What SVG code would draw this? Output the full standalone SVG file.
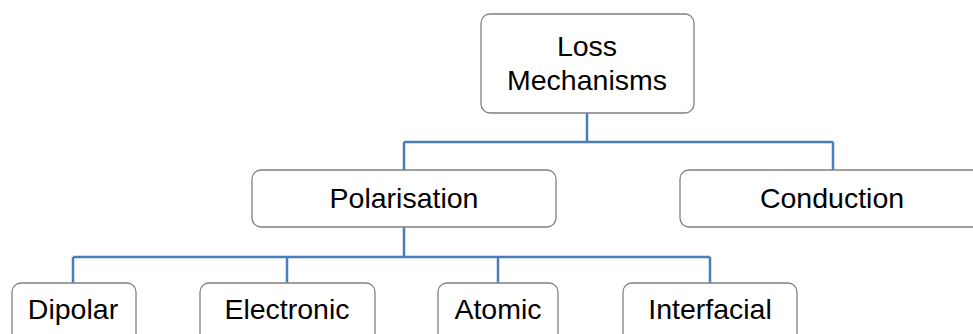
<svg xmlns="http://www.w3.org/2000/svg" width="973" height="334" viewBox="0 0 973 334">
<style>
.box{fill:#fff;stroke:#808080;stroke-width:1.3}
.t{font-family:"Liberation Sans",Arial,sans-serif;font-size:28.5px;fill:#000;text-anchor:middle}
.c{fill:none;stroke:#4a7ebb;stroke-width:2.5}
</style>
<rect width="973" height="334" fill="#fff"/>
<g id="connectors">
<path class="c" d="M587 113V142M404 142H833M404 142V170M833 142V170"/>
<path class="c" d="M404 227V257M73 257H710M73 257V283M287 257V283M498 257V283M710 257V283"/>
</g>
<g id="loss"><rect class="box" x="481" y="14" width="213" height="99" rx="9"/><text class="t" x="587" y="56">Loss</text><text class="t" x="587" y="90">Mechanisms</text></g>
<g id="polarisation"><rect class="box" x="252" y="170" width="304" height="57" rx="9"/><text class="t" x="404" y="208">Polarisation</text></g>
<g id="conduction"><rect class="box" x="680" y="170" width="310" height="57" rx="9"/><text class="t" x="832" y="208">Conduction</text></g>
<g id="dipolar"><rect class="box" x="12" y="283" width="124" height="70" rx="9"/><text class="t" x="73" y="319">Dipolar</text></g>
<g id="electronic"><rect class="box" x="200" y="283" width="175" height="70" rx="9"/><text class="t" x="287" y="319">Electronic</text></g>
<g id="atomic"><rect class="box" x="438" y="283" width="120" height="70" rx="9"/><text class="t" x="498" y="319">Atomic</text></g>
<g id="interfacial"><rect class="box" x="623" y="283" width="174" height="70" rx="9"/><text class="t" x="710" y="319">Interfacial</text></g>
</svg>
